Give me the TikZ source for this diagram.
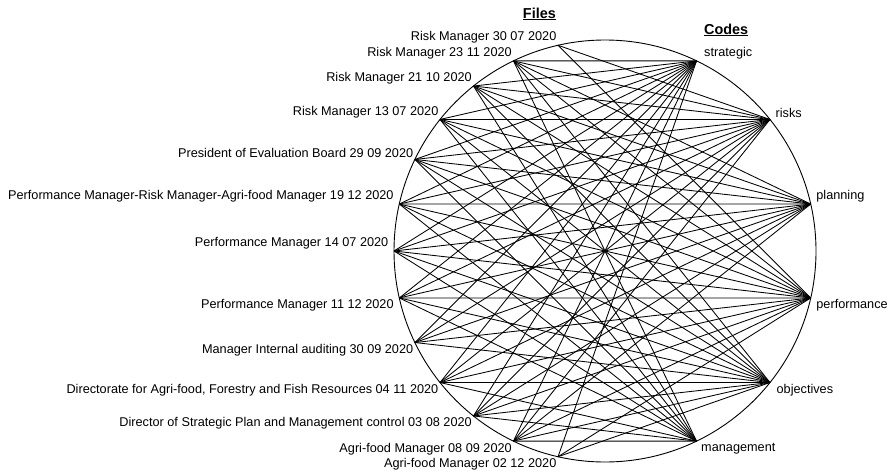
\documentclass[tikz,border=0pt]{standalone}
\usepackage{fontspec}
\setmainfont{Liberation Sans}
\begin{document}
\begin{tikzpicture}[x=1pt,y=1pt,
  lbl/.style={font=\fontsize{12.7}{14}\selectfont, inner sep=1.5pt},
  ttl/.style={font=\fontsize{14.4}{16}\selectfont\bfseries, inner sep=0pt},
  link/.style={line width=0.85pt, black},
  rim/.style={line width=0.9pt, black}]
\useasboundingbox (0,0) rectangle (893,475);
\coordinate (C) at (605,224);
\draw[rim] (C) circle (211);
% file points
\foreach \i in {1,...,13}{
  \path (C) ++({102.857+(\i-1)*12.857}:211) coordinate (f\i);
}
% code points
\path (C) ++(64.29:211) coordinate (c1);
\path (C) ++(38.57:211) coordinate (c2);
\path (C) ++(12.86:211) coordinate (c3);
\path (C) ++(-12.86:211) coordinate (c4);
\path (C) ++(-38.57:211) coordinate (c5);
\path (C) ++(-64.29:211) coordinate (c6);
% titles
\node[ttl, anchor=east] (tf) at (556,461) {\underline{Files}};
\node[ttl, anchor=west] (tc) at (704,445) {\underline{Codes}};
% file labels
\node[lbl, anchor=south east] (l1) at (f1) {Risk Manager 30 07 2020};
\node[lbl, anchor=south east] (l2) at (f2) {Risk Manager 23 11 2020};
\node[lbl, anchor=south east] (l3) at (f3) {Risk Manager 21 10 2020};
\node[lbl, anchor=south east] (l4) at (f4) {Risk Manager 13 07 2020};
\node[lbl, anchor=south east] (l5) at (f5) {President of Evaluation Board 29 09 2020};
\node[lbl, anchor=south east, xshift=-4pt] (l6) at (f6) {Performance Manager-Risk Manager-Agri-food Manager 19 12 2020};
\node[lbl, anchor=south east, xshift=-4pt] (l7) at (f7) {Performance Manager 14 07 2020};
\node[lbl, anchor=north east, xshift=-4pt] (l8) at (f8) {Performance Manager 11 12 2020};
\node[lbl, anchor=north east] (l9) at (f9) {Manager Internal auditing 30 09 2020};
\node[lbl, anchor=north east] (l10) at (f10) {Directorate for Agri-food, Forestry and Fish Resources 04 11 2020};
\node[lbl, anchor=north east] (l11) at (f11) {Director of Strategic Plan and Management control 03 08 2020};
\node[lbl, anchor=north east] (l12) at (f12) {Agri-food Manager 08 09 2020};
\node[lbl, anchor=north east] (l13) at (f13) {Agri-food Manager 02 12 2020};
% code labels
\node[lbl, anchor=south west, xshift=6pt] (k1) at (c1) {strategic};
\node[lbl, anchor=south west, xshift=4pt] (k2) at (c2) {risks};
\node[lbl, anchor=south west, xshift=4pt] (k3) at (c3) {planning};
\node[lbl, anchor=north west, xshift=4pt] (k4) at (c4) {performance};
\node[lbl, anchor=north west, xshift=5pt] (k5) at (c5) {objectives};
\node[lbl, anchor=north west, xshift=3pt] (k6) at (c6) {management};
% links
\foreach \f/\c in {1/2,1/4,
  2/1,2/2,2/3,2/4,2/5,2/6,
  3/1,3/2,3/3,3/4,3/5,3/6,
  4/1,4/2,4/3,4/4,4/5,4/6,
  5/1,5/2,5/3,5/4,5/5,5/6,
  6/1,6/2,6/3,6/4,6/5,6/6,
  7/1,7/2,7/3,7/4,7/5,7/6,
  8/1,8/2,8/3,8/4,8/5,8/6,
  9/1,9/2,9/3,9/4,9/5,
  10/1,10/2,10/3,10/4,10/5,10/6,
  11/1,11/2,11/3,11/4,11/5,11/6,
  12/1,12/2,12/3,12/4,12/5,12/6,
  13/1,13/4,13/5}{
  \draw[link] (f\f) -- (c\c);
}
\end{tikzpicture}
\end{document}
